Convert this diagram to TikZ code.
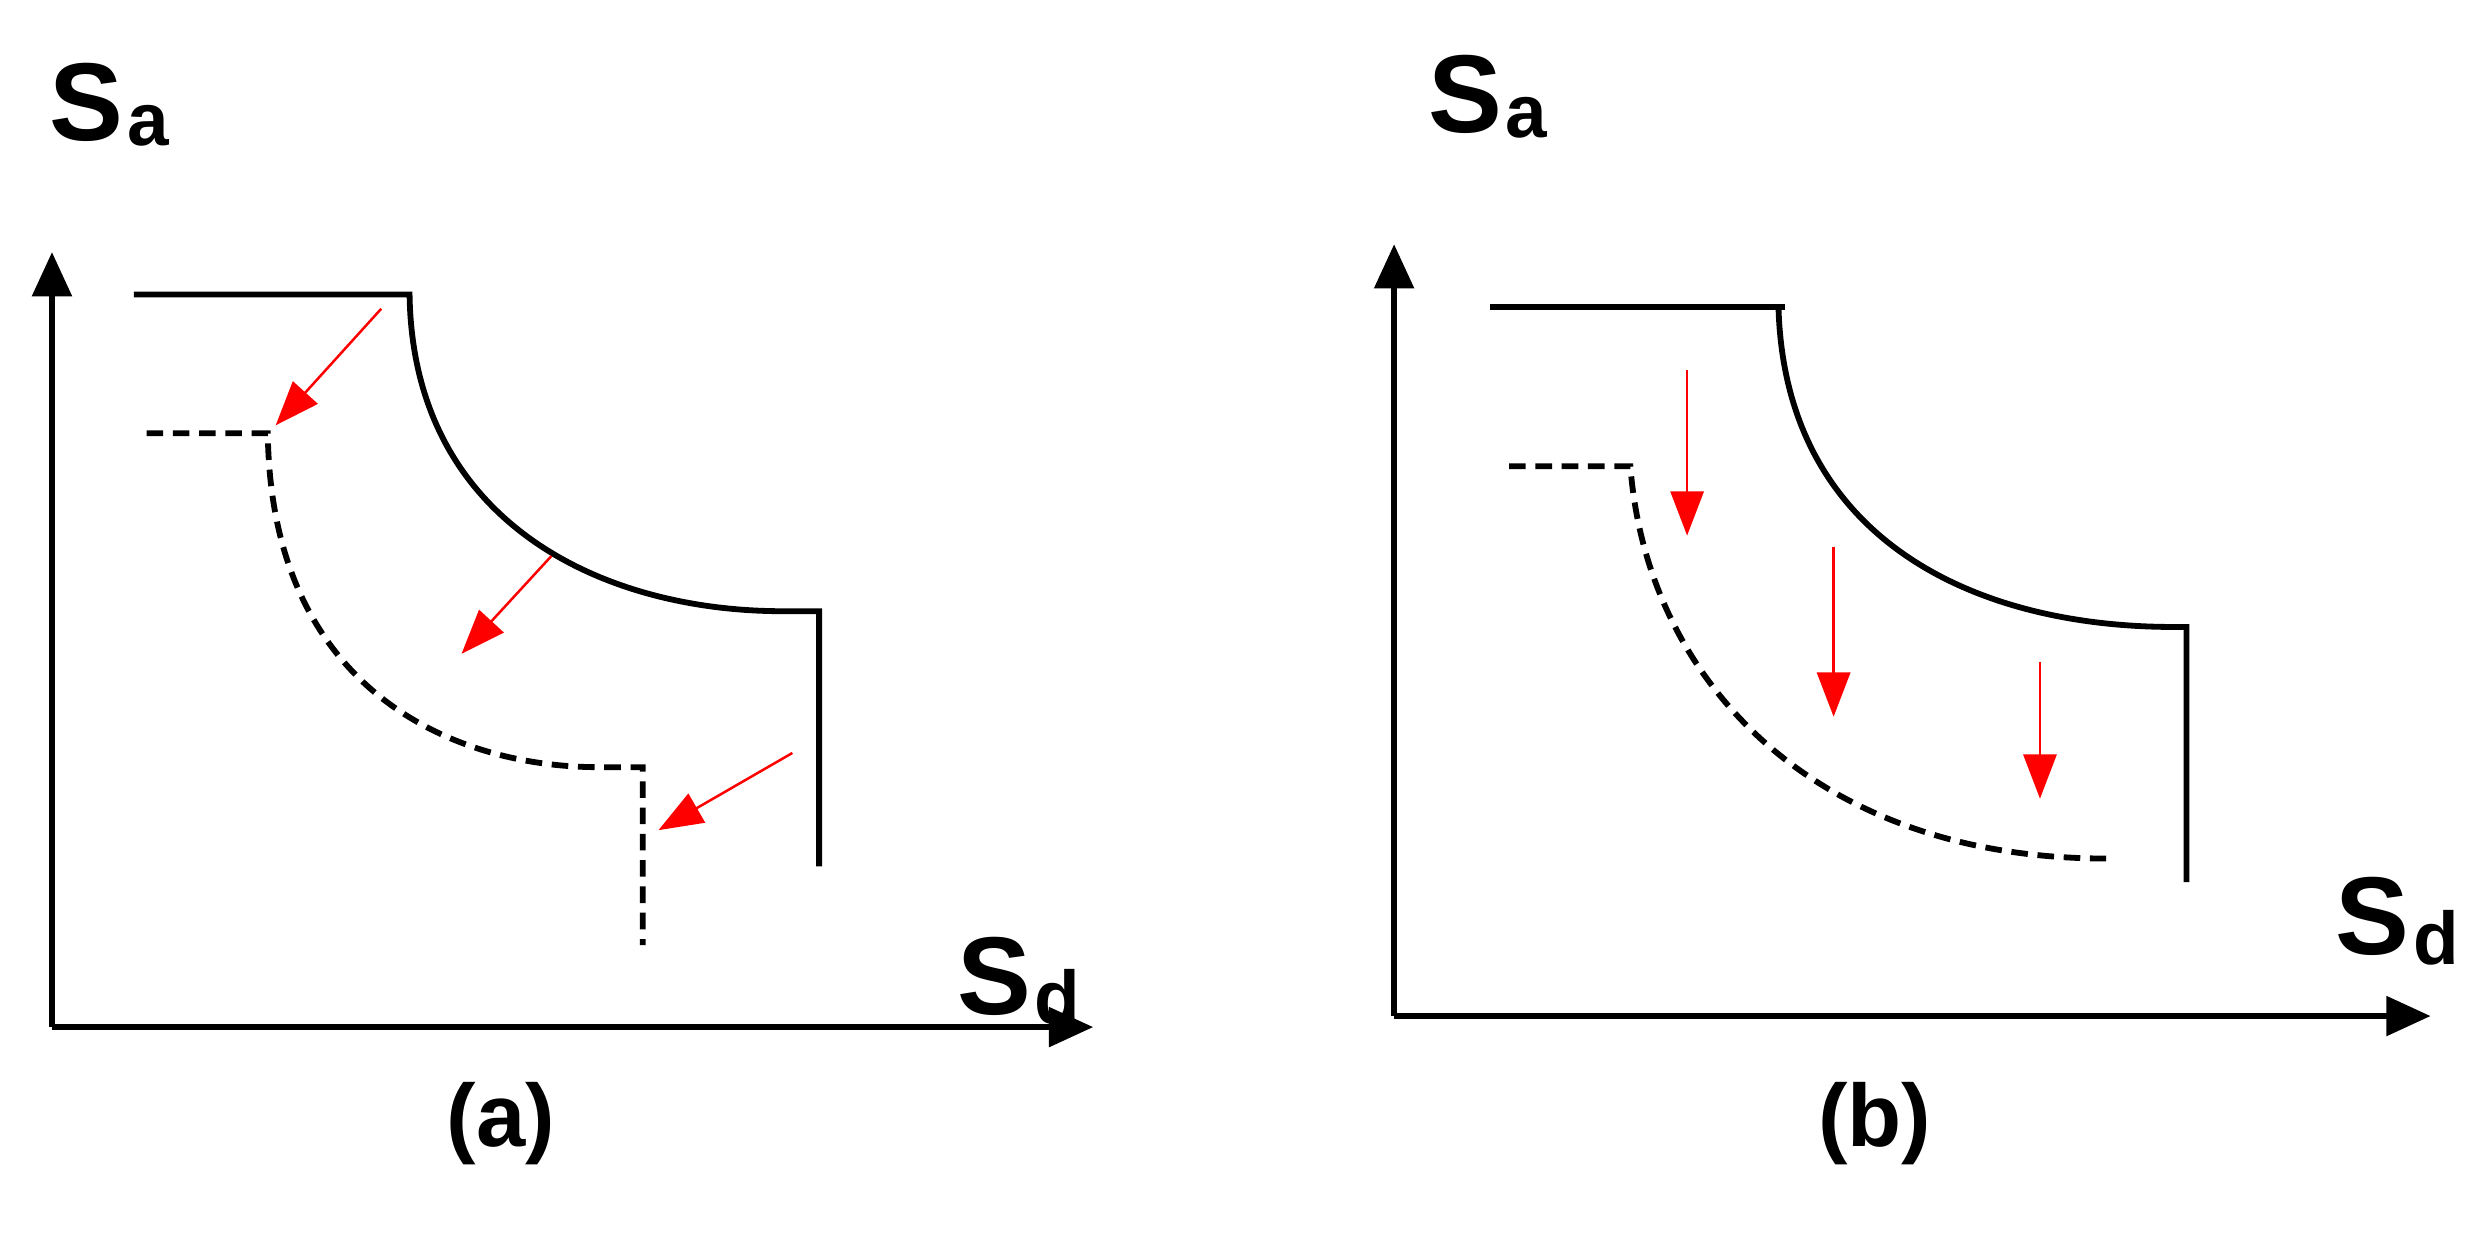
\documentclass[tikz,border=0pt]{standalone}
\usepackage{fontspec}
\setmainfont{Liberation Sans}
\usetikzlibrary{arrows.meta}
\begin{document}
\begin{tikzpicture}[x=0.02cm,y=-0.02cm,
  axis/.style={line width=2.3pt,-{Triangle[length=16pt,width=14pt]}},
  solid curve/.style={line width=2.1pt},
  dash curve/.style={line width=2.1pt,dash pattern=on 6pt off 3.5pt},
  red arrow/.style={red,line width=0.9pt,-{Triangle[length=16pt,width=12pt]}},
  lbl/.style={font=\bfseries\fontsize{40}{42}\selectfont,inner sep=0pt},
  sub/.style={font=\bfseries\fontsize{27}{28}\selectfont,inner sep=0pt},
  captext/.style={font=\bfseries\fontsize{32}{34}\selectfont,inner sep=0pt}]
\useasboundingbox (0,0) rectangle (1568,792);
% ---- (a)
\coordinate (ao) at (33,652);
\coordinate (ay) at (33,160);
\coordinate (ax) at (694,652);
\draw[axis] (ao) -- (ay);
\draw[axis] (ao) -- (ax);
\node[lbl] (sa1) at (55,65) {S};
\node[sub,anchor=west] (sa1s) at ([xshift=1pt]sa1.east|-0,80) {a};
\node[lbl] (sd1) at (631,620) {S};
\node[sub,anchor=west] (sd1s) at ([xshift=1pt]sd1.east|-0,633) {d};
\draw[solid curve] (85,187) -- (260,187) .. controls (262,330) and (380,388) .. (497,388) -- (520,388) -- (520,550);
\draw[dash curve] (93,275) -- (170,275) .. controls (172,440) and (290,487) .. (380,487) -- (408,487) -- (408,600);
\coordinate (r1s) at (242,196); \coordinate (r1e) at (175,270);
\coordinate (r2s) at (350,353); \coordinate (r2e) at (293,415);
\coordinate (r3s) at (503,478); \coordinate (r3e) at (418,527);
\draw[red arrow] (r1s) -- (r1e);
\draw[red arrow] (r2s) -- (r2e);
\draw[red arrow] (r3s) -- (r3e);
\node[captext] (capa) at (318,713) {(a)};
% ---- (b)
\coordinate (bo) at (885,645);
\coordinate (by) at (885,155);
\coordinate (bx) at (1543,645);
\draw[axis] (bo) -- (by);
\draw[axis] (bo) -- (bx);
\node[lbl] (sa2) at (930,60) {S};
\node[sub,anchor=west] (sa2s) at ([xshift=1pt]sa2.east|-0,75) {a};
\node[lbl] (sd2) at (1506,582) {S};
\node[sub,anchor=west] (sd2s) at ([xshift=1pt]sd2.east|-0,595) {d};
\draw[solid curve] (946,195) -- (1133,195);
\draw[solid curve] (1129,195) .. controls (1133,340) and (1250,398) .. (1380,398) -- (1388,398) -- (1388,560);
\draw[dash curve] (958,296) -- (1035,296) .. controls (1045,430) and (1150,545) .. (1337,545);
\coordinate (b1s) at (1071,235); \coordinate (b1e) at (1071,340);
\coordinate (b2s) at (1164,347); \coordinate (b2e) at (1164,455);
\coordinate (b3s) at (1295,420); \coordinate (b3e) at (1295,507);
\draw[red arrow] (b1s) -- (b1e);
\draw[red arrow] (b2s) -- (b2e);
\draw[red arrow] (b3s) -- (b3e);
\node[captext] (capb) at (1190,713) {(b)};
\end{tikzpicture}
\end{document}
